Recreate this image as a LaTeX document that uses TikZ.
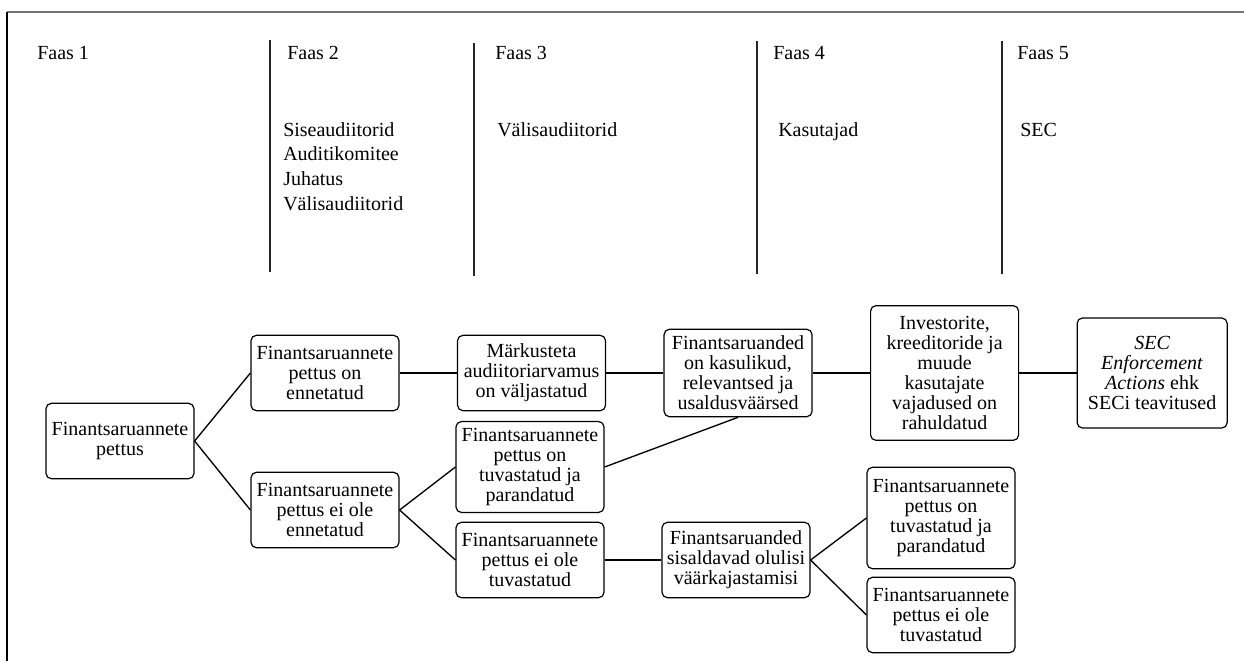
\documentclass[tikz,border=0pt]{standalone}
\usepackage{fontspec}
\setmainfont{Liberation Serif}
\usepackage{tikz}
\usetikzlibrary{positioning}
\tikzstyle{box} = [draw, rectangle, rounded corners=4pt, line width=0.9pt,
align=center, minimum width=111pt, minimum height=56.5pt,
inner xsep=3pt, inner ysep=5pt, font=\fontsize{15}{15}\selectfont]
\tikzstyle{faas} = [anchor=base west, inner sep=0, font=\fontsize{15}{18.5}\selectfont]
\tikzstyle{piir} = [line width=1.1pt, black!85]
\tikzstyle{haru} = [line width=1pt]

\begin{document}
\begin{tikzpicture}[x=0.75pt, y=-0.75pt, node distance=43pt]
		\useasboundingbox (0,0) rectangle (1244,661);
		% raam
		\draw[line width=1pt, black!55] (7,12) -- (1244,12);
		\draw[line width=1.1pt] (7,12) -- (7,661);
		
		% faasid
		\node[faas] (f1) at (37,59) {Faas 1};
		\node[faas] (f2) at (287,59) {Faas 2};
		\node[faas] (f3) at (495,59) {Faas 3};
		\node[faas] (f4) at (773,59) {Faas 4};
		\node[faas] (f5) at (1017,59) {Faas 5};
		\node[faas, anchor=north west, align=left] (osal2) at (283,122) {Siseaudiitorid\\Auditikomitee\\Juhatus\\Välisaudiitorid};
		\node[faas] (osal3) at (497,136) {Välisaudiitorid};
		\node[faas] (osal4) at (778,136) {Kasutajad};
		\node[faas] (osal5) at (1020,136) {SEC};
		\draw[piir] (270,40) -- (270,272);	% faas 1 | 2
		\draw[piir] (474,43) -- (474,276);	% faas 2 | 3
		\draw[piir] (757,41) -- (757,274);	% faas 3 | 4
		\draw[piir] (1002,41) -- (1002,274);	% faas 4 | 5
		
		% nodes
		\node[box] (pettus) at (120,441) {Finantsaruannete\\pettus};
		\node[box] (ennet) at (325,373) {Finantsaruannete\\pettus on\\ennetatud};
		\node[box] (eiennet) at (325,510) {Finantsaruannete\\pettus ei ole\\ennetatud};
		\node[box, right=of ennet] (arvamus) {Märkusteta\\audiitoriarvamus\\on väljastatud};
		\node[box] (tuvast) at (530,467) {Finantsaruannete\\pettus on\\tuvastatud ja\\parandatud};
		\node[box] (eituvast) at (530,560) {Finantsaruannete\\pettus ei ole\\tuvastatud};
		\node[box, right=of arvamus] (kasulik) {Finantsaruanded\\on kasulikud,\\relevantsed ja\\usaldusväärsed};
		\node[box] (vaar) at (736,560) {Finantsaruanded\\sisaldavad olulisi\\väärkajastamisi};
		\node[box, right=of kasulik, minimum height=101pt] (kasutaja) {Investorite,\\kreeditoride ja\\muude\\kasutajate\\vajadused on\\rahuldatud};
		\node[box, minimum height=76pt] (tuvast2) at (941,518) {Finantsaruannete\\pettus on\\tuvastatud ja\\parandatud};
		\node[box] (eituvast2) at (941,615) {Finantsaruannete\\pettus ei ole\\tuvastatud};
		\node[box, right=of kasutaja, minimum height=82.5pt, minimum width=112.5pt] (sec) {\textit{SEC}\\\textit{Enforcement}\\\textit{Actions} ehk\\SECi teavitused};
		
		% connectors
		\draw[haru] (pettus.east) -- (ennet.west);
		\draw[haru] (pettus.east) -- (eiennet.west);
		\draw[haru] (ennet) -- (arvamus);
		\draw[haru] (eiennet.east) -- (tuvast.west);
		\draw[haru] (eiennet.east) -- (eituvast.west);
		\draw[haru] (arvamus) -- (kasulik);
		\draw[haru] (tuvast.east) -- (kasulik.south);
		\draw[haru] (eituvast) -- (vaar);
		\draw[haru] (kasulik) -- (kasutaja);
		\draw[haru] (vaar.east) -- (tuvast2.west);
		\draw[haru] (vaar.east) -- (eituvast2.west);
		\draw[haru] (kasutaja) -- (sec);
\end{tikzpicture}
\end{document}
